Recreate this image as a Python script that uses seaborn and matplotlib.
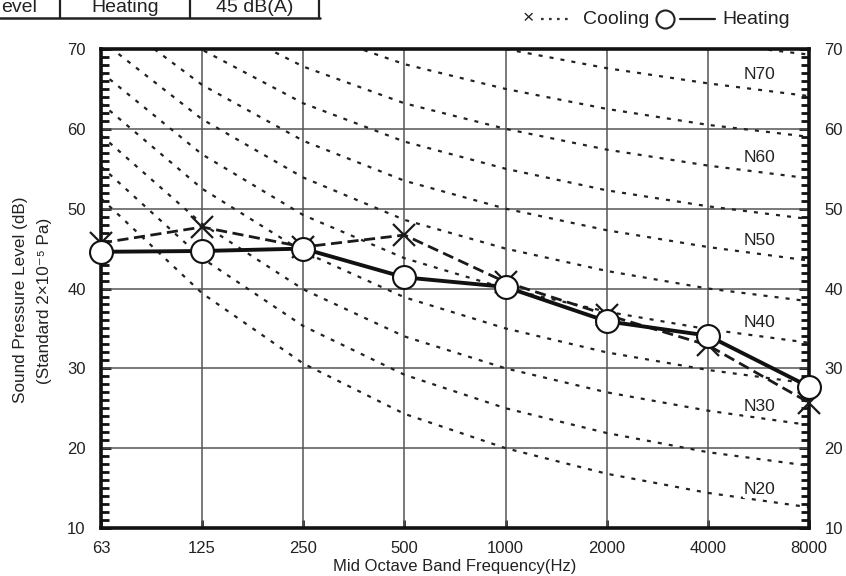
import numpy as np
import pandas as pd
import matplotlib
matplotlib.use('Agg')
import matplotlib.pyplot as plt
import seaborn as sns
from matplotlib.lines import Line2D
from matplotlib.ticker import MultipleLocator

# Mid octave band frequencies (Hz)
freq_labels = ['63', '125', '250', '500', '1000', '2000', '4000', '8000']

# Measured sound pressure levels (dB)
heating = [44.6, 44.7, 45.0, 41.4, 40.2, 35.9, 34.1, 27.7]
cooling = [45.7, 47.7, 45.2, 46.7, 40.8, 36.7, 32.9, 25.7]

# NR reference curves (dB per octave band)
nr20 = [51.3, 39.4, 30.6, 24.3, 20.0, 16.8, 14.4, 12.6]
nr25 = [55.3, 43.8, 35.3, 29.2, 25.0, 21.9, 19.5, 17.8]
nr30 = [59.2, 48.1, 39.9, 34.0, 30.0, 27.0, 24.7, 22.9]
nr35 = [63.2, 52.5, 44.6, 38.9, 35.0, 32.0, 29.8, 28.1]
nr40 = [67.1, 56.8, 49.2, 43.8, 40.0, 37.1, 34.9, 33.2]
nr45 = [71.1, 61.2, 53.9, 48.6, 45.0, 42.2, 40.0, 38.4]
nr50 = [75.0, 65.5, 58.5, 53.5, 50.0, 47.3, 45.2, 43.5]
nr55 = [79.0, 69.9, 63.2, 58.4, 55.0, 52.3, 50.3, 48.7]
nr60 = [82.9, 74.2, 67.8, 63.2, 60.0, 57.4, 55.4, 53.8]
nr65 = [86.9, 78.6, 72.5, 68.1, 65.0, 62.5, 60.5, 59.0]
nr70 = [90.8, 82.9, 77.1, 73.0, 70.0, 67.6, 65.7, 64.1]
nr75 = [94.8, 87.3, 81.8, 77.9, 75.0, 72.6, 70.8, 69.3]
nr_curves = [nr20, nr25, nr30, nr35, nr40, nr45, nr50, nr55, nr60, nr65, nr70, nr75]

nr_labels = ['N20', 'N30', 'N40', 'N50', 'N60', 'N70']
nr_label_y = [14.8, 25.2, 35.7, 46.0, 56.4, 66.8]

y_ticks = [10, 20, 30, 40, 50, 60, 70]

sns.set_theme(style='white')
plt.rcParams['font.family'] = ['Liberation Sans', 'DejaVu Sans']
text_color = '#222222'
W, H = 846, 576

pos = np.arange(len(freq_labels))
df = pd.DataFrame({'pos': pos, 'heating': heating, 'cooling': cooling})

fig = plt.figure(figsize=(8.46, 5.76), dpi=100)
ax = fig.add_axes([0.1194, 0.0833, 0.8369, 0.8316])

# grid
for v in y_ticks[1:-1]:
    ax.axhline(v, color='#555555', lw=1.1, zorder=1)
for p in pos[1:-1]:
    ax.axvline(p, color='#555555', lw=1.1, zorder=1)

# NR curves
for curve in nr_curves:
    sns.lineplot(x=pos, y=curve, ax=ax, color='#222222', lw=1.6,
                 linestyle=(0, (1.8, 3.2)), zorder=2)

for lab, yy in zip(nr_labels, nr_label_y):
    ax.text(6.51, yy, lab, ha='center', va='center', fontsize=12.5,
            color=text_color, zorder=3,
            bbox=dict(facecolor='white', edgecolor='none', pad=0.5))

# measured data
sns.lineplot(data=df, x='pos', y='cooling', ax=ax, color='#1a1a1a', lw=2.0,
             linestyle=(0, (4, 2)), marker='x', markersize=16, mew=1.6,
             mec='#1a1a1a', clip_on=False, zorder=4)
sns.lineplot(data=df, x='pos', y='heating', ax=ax, color='#111111', lw=2.8,
             marker='o', markersize=16.5, mfc='white', mec='#111111', mew=1.5,
             clip_on=False, zorder=5)

ax.set_xlim(0, 7)
ax.set_ylim(10, 70)
ax.set_xticks(pos)
ax.set_xticklabels(freq_labels)
ax.set_yticks(y_ticks)
ax.yaxis.set_minor_locator(MultipleLocator(1))
ax.set_xlabel('')
ax.set_ylabel('')

ax.tick_params(axis='y', which='both', direction='in', left=True, right=True,
               labelleft=True, labelright=True, width=2, colors='#111111',
               labelcolor=text_color, labelsize=12)
ax.tick_params(axis='y', which='major', length=7, pad=11)
ax.tick_params(axis='y', which='minor', length=6)
ax.tick_params(axis='x', which='major', direction='in', bottom=True, length=6,
               width=2, pad=9, labelsize=12, labelcolor=text_color)

for s in ax.spines.values():
    s.set_linewidth(2.6)
    s.set_color('#111111')
    s.set_zorder(3)

# axis titles
fig.text(455 / W, 1 - 566 / H, 'Mid Octave Band Frequency(Hz)', ha='center',
         va='center', fontsize=12, color=text_color)
fig.text(21 / W, 1 - 300 / H, 'Sound Pressure Level (dB)', rotation=90,
         ha='center', va='center', fontsize=12.3, color=text_color)
fig.text(45 / W, 1 - 301 / H, '(Standard 2\u00d710\u207b\u2075 Pa)', rotation=90,
         ha='center', va='center', fontsize=12.3, color=text_color)

# legend, drawn piece by piece
ly = 1 - 19 / H
fig.text(528 / W, ly, '\u00d7', ha='center', va='center', fontsize=14,
         color=text_color)
fig.add_artist(Line2D([541 / W, 571 / W], [ly, ly], color='#333333', lw=1.6,
                      linestyle=(0, (1.2, 2.4))))
fig.text(583 / W, ly, 'Cooling', ha='left', va='center', fontsize=14,
         color=text_color)
fig.add_artist(Line2D([665 / W], [ly], marker='o', markersize=13, mfc='white',
                      mec='#222222', mew=1.5, linestyle='none'))
fig.add_artist(Line2D([680 / W, 715 / W], [ly, ly], color='#222222', lw=1.6))
fig.text(722 / W, ly, 'Heating', ha='left', va='center', fontsize=14,
         color=text_color)

# partial table at the top left
for xl in [60, 190, 319]:
    fig.add_artist(Line2D([xl / W, xl / W], [1.0, 1 - 18 / H],
                          color='#222222', lw=1.6))
fig.add_artist(Line2D([0, 320 / W], [1 - 18 / H, 1 - 18 / H],
                      color='#222222', lw=1.8))
fig.text(1 / W, 1 - 11.5 / H, 'evel', ha='left', va='baseline',
         fontsize=14, color=text_color)
fig.text(125 / W, 1 - 11.5 / H, 'Heating', ha='center', va='baseline',
         fontsize=14, color=text_color)
fig.text(255 / W, 1 - 11.5 / H, '45 dB(A)', ha='center', va='baseline',
         fontsize=14, color=text_color)

fig.savefig('out.png', dpi=100)
